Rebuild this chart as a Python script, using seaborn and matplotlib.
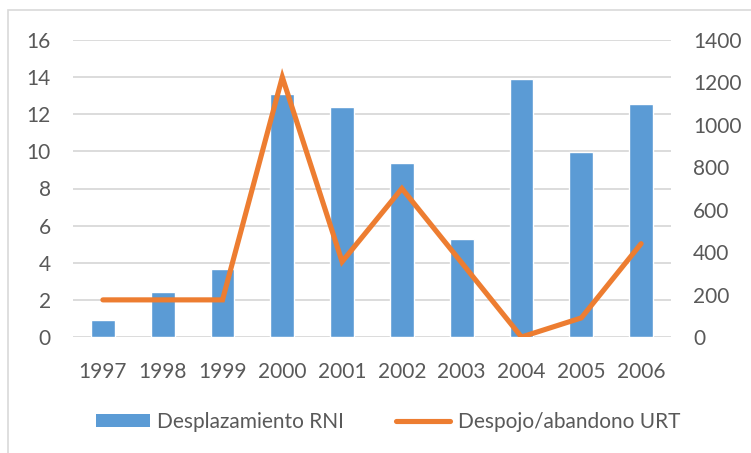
import numpy as np
import seaborn as sns
import matplotlib.pyplot as plt
from matplotlib.patches import Patch, Rectangle
from matplotlib.lines import Line2D

# ------------------ Data ------------------
years = ["1997", "1998", "1999", "2000", "2001", "2002", "2003", "2004", "2005", "2006"]
desplazamiento_rni = [0.92, 2.42, 3.65, 13.07, 12.37, 9.36, 5.26, 13.9, 9.97, 12.54]
despojo_urt = [175, 175, 175, 1225, 355, 700, 350, 0, 90, 440]

left_ticks = [0, 2, 4, 6, 8, 10, 12, 14, 16]
right_ticks = [0, 200, 400, 600, 800, 1000, 1200, 1400]

blue = "#5B9BD5"
orange = "#ED7D31"
grid_c = "#D9D9D9"
text_c = "#595959"
fs = 15

sns.set_style("white")
plt.rcParams["font.family"] = ["Lato", "DejaVu Sans"]

fig = plt.figure(figsize=(7.51, 4.53), dpi=100)
ax = fig.add_axes([73 / 751, 1 - 337 / 453, 598 / 751, 297 / 453])

# chart frame (cropped at right/bottom)
fig.patches.append(Rectangle((8 / 751, -0.2), 2, 1.2 - 10 / 453, transform=fig.transFigure,
                             fill=False, edgecolor=grid_c, linewidth=1.2))

# ------------------ Bars ------------------
sns.barplot(x=years, y=desplazamiento_rni, color=blue, width=0.4, saturation=1, ax=ax)
ax.set_ylim(0, 16)
ax.set_xlim(-0.5, len(years) - 0.5)
ax.set_yticks(left_ticks)
ax.yaxis.grid(True, color=grid_c, linewidth=1.3)
ax.set_axisbelow(True)
for s in ax.spines.values():
    s.set_visible(False)
ax.tick_params(axis="y", length=0, pad=16, labelsize=fs, labelcolor=text_c)
ax.tick_params(axis="x", length=0, pad=18, labelsize=fs, labelcolor=text_c)

# ------------------ Line ------------------
ax2 = ax.twinx()
sns.lineplot(x=np.arange(len(years)), y=despojo_urt, color=orange, linewidth=3.7, ax=ax2)
ax2.lines[0].set_solid_capstyle("round")
ax2.lines[0].set_solid_joinstyle("miter")
ax2.set_ylim(0, 1400)
ax2.set_yticks(right_ticks)
ax2.grid(False)
for s in ax2.spines.values():
    s.set_visible(False)
ax2.tick_params(axis="y", length=0, pad=16, labelsize=fs, labelcolor=text_c)
ax2.set_xlim(-0.5, len(years) - 0.5)

# ------------------ Legend ------------------
handles = [Patch(facecolor=blue, edgecolor="none"),
           Line2D([0], [0], color=orange, linewidth=3.7, solid_capstyle="round")]
fig.legend(handles, ["Desplazamiento RNI", "Despojo/abandono URT"],
           loc="center", bbox_to_anchor=(388 / 751, 1 - 422 / 453), ncol=2,
           frameon=False, fontsize=fs, labelcolor=text_c,
           handlelength=2.6, handleheight=0.55, handletextpad=0.35, columnspacing=2.5)

fig.savefig("out.png", dpi=100)
